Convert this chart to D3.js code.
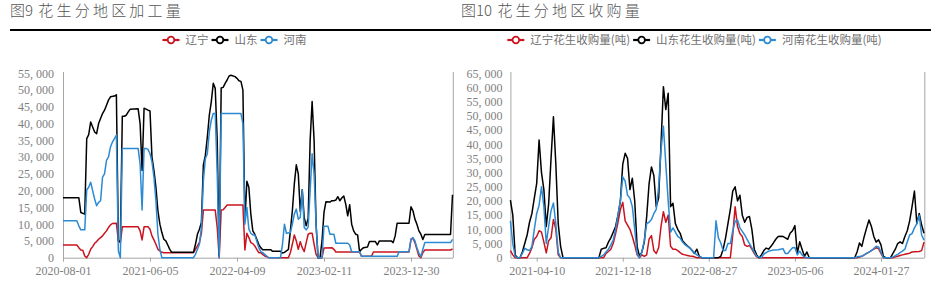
<!DOCTYPE html>
<html><head><meta charset="utf-8">
<script src="https://cdn.jsdelivr.net/npm/d3@7/dist/d3.min.js"></script>
<style>body{margin:0;background:#fff}svg{display:block}</style>
</head><body><svg id="c" width="937" height="286"></svg>
<script>
// ---------------- DATA ----------------
// Left chart: 图9 花生分地区加工量 (category axis, 198 weekly categories)
const leftTitle = ["图9", "花生分地区加工量"];
const leftCount = 198;
const leftTickLabels = ["2020-08-01", "2021-06-05", "2022-04-09", "2023-02-11", "2023-12-30"];
const leftTickIndex = [0, 44, 88, 132, 176];
const leftYTicks = [0, 5000, 10000, 15000, 20000, 25000, 30000, 35000, 40000, 45000, 50000, 55000];
const leftNames = ["辽宁", "山东", "河南"];
// [category index, value]
const leftLiaoning = [[0,3800],[7,3800],[8,3000],[9,2300],[10,2200],[11,500],[12,0],[13,1000],[14,2500],[15,3300],[16,4300],[17,4800],[18,5500],[19,6000],[20,6500],[21,7300],[22,8000],[23,9000],[24,9800],[25,10200],[27,10300],[28,5000],[29,4500],[30,9200],[38,9200],[39,8000],[40,5300],[41,9200],[43,9200],[44,8500],[45,6500],[46,5300],[47,4000],[48,2500],[49,2000],[50,1600],[51,1500],[66,1500],[67,2500],[68,3500],[69,4600],[70,7300],[71,14200],[77,14200],[78,9000],[79,0],[80,14200],[81,14300],[82,15000],[83,15700],[91,15700],[92,2300],[93,7300],[94,6000],[95,4500],[96,4200],[97,3500],[98,2500],[99,1500],[100,1500],[101,1000],[102,500],[103,300],[104,0],[114,0],[115,1500],[116,4000],[117,6800],[118,5000],[119,2500],[120,4800],[121,3000],[122,1800],[123,4500],[124,7000],[125,7300],[126,7300],[127,4000],[128,1000],[129,0],[131,0],[132,2900],[136,3000],[137,2500],[138,1700],[150,1700],[151,400],[156,400],[157,1700],[175,1700],[176,5500],[177,5800],[178,4500],[179,2500],[180,500],[181,0],[182,1500],[183,2300],[196,2300],[197,2600]];
const leftShandong = [[0,17900],[8,17900],[9,13500],[11,13000],[12,35500],[13,36700],[14,40500],[15,39000],[16,37500],[17,37000],[18,40000],[19,41500],[20,43000],[21,44000],[22,45500],[23,47000],[24,48000],[26,48200],[27,48600],[28,4900],[29,4900],[30,42200],[31,42200],[32,42500],[33,43500],[34,44300],[38,44400],[39,40000],[40,26000],[41,44600],[43,44000],[44,43800],[45,30000],[46,26000],[47,21000],[48,14000],[49,10000],[50,7500],[51,5500],[52,5000],[53,3800],[54,2500],[55,1600],[66,1600],[67,4000],[68,7000],[69,8500],[70,10500],[71,27700],[72,30500],[73,36000],[74,42500],[75,46500],[76,52000],[77,50500],[78,35000],[79,500],[80,50600],[81,50800],[82,52000],[83,53000],[84,54200],[85,54400],[87,54000],[88,53500],[89,52800],[90,52600],[91,50000],[92,11000],[93,22800],[94,21000],[95,13000],[96,8000],[97,7000],[98,5500],[99,4000],[100,3000],[101,2400],[105,2400],[106,1900],[110,1900],[111,1400],[112,1600],[113,2000],[114,2500],[115,8000],[116,14000],[117,22000],[118,27700],[119,25000],[120,13800],[121,20300],[122,12000],[123,9500],[124,11800],[125,35000],[126,46600],[127,35000],[128,10000],[129,0],[130,0],[131,5000],[132,13500],[133,16700],[135,16600],[136,17000],[137,17000],[138,17200],[139,18200],[140,17000],[141,17800],[142,18400],[143,16000],[144,12500],[145,15800],[146,10000],[147,8000],[148,7000],[149,6800],[150,1800],[151,2500],[152,3000],[154,3200],[155,4800],[158,4800],[159,3800],[160,5000],[166,5000],[167,4500],[168,6500],[169,10300],[175,10300],[176,15200],[177,14000],[178,11500],[179,10000],[180,8000],[181,7000],[182,5400],[183,6900],[196,6900],[197,18800]];
const leftHenan = [[0,11000],[7,11000],[8,9500],[9,8300],[11,8300],[12,20200],[13,21000],[14,22500],[15,20000],[16,17500],[17,15500],[18,16500],[19,17000],[20,24000],[21,25000],[22,29000],[23,30000],[24,33000],[25,34500],[26,35500],[27,36600],[28,2000],[29,0],[30,32600],[38,32600],[39,28000],[40,14200],[41,32600],[42,32600],[43,32300],[44,31000],[45,28600],[46,24000],[47,17000],[48,7000],[49,2500],[50,0],[66,0],[67,1000],[68,2500],[69,4000],[70,9000],[71,23000],[72,29500],[73,31000],[74,37500],[75,41000],[76,43000],[77,43000],[78,25000],[79,0],[80,43000],[90,43000],[91,40000],[92,10000],[93,15000],[94,8500],[95,7300],[96,6800],[97,6800],[98,5000],[99,3000],[100,1800],[101,1500],[102,1000],[103,500],[104,0],[110,0],[111,4000],[112,10000],[113,7300],[115,7500],[116,10000],[117,13000],[118,14500],[119,11500],[120,12000],[121,20200],[122,9000],[123,8300],[124,9200],[125,20000],[126,31000],[127,25000],[128,10000],[129,0],[131,0],[132,9400],[134,9400],[135,7000],[137,7000],[138,4300],[144,4300],[145,3800],[146,1800],[150,1800],[151,400],[169,400],[170,1800],[175,1800],[176,5500],[177,6000],[178,5000],[179,3000],[180,1400],[181,300],[182,2500],[183,4500],[196,4500],[197,5500]];

// Right chart: 图10 花生分地区收购量 (category axis, 174 weekly categories)
const rightTitle = ["图10", "花生分地区收购量"];
const rightCount = 174;
const rightTickLabels = ["2021-04-10", "2021-12-18", "2022-08-27", "2023-05-06", "2024-01-27"];
const rightTickIndex = [11, 47, 83, 119, 155];
const rightYTicks = [0, 5000, 10000, 15000, 20000, 25000, 30000, 35000, 40000, 45000, 50000, 55000, 60000, 65000];
const rightNames = ["辽宁花生收购量(吨)", "山东花生收购量(吨)", "河南花生收购量(吨)"];
const rightLiaoning = [[0,2500],[1,1000],[2,0],[7,0],[8,1500],[9,3500],[10,6500],[11,7500],[12,9500],[13,9000],[14,5500],[15,1700],[16,6000],[17,7000],[18,13500],[19,10000],[20,1000],[21,0],[39,0],[40,1500],[41,2200],[42,3000],[43,5000],[44,8500],[45,12500],[46,17000],[47,19500],[48,13000],[49,11500],[50,10000],[51,7500],[52,4500],[53,1000],[54,0],[55,1000],[56,500],[57,1000],[58,6500],[59,7800],[60,2500],[61,1500],[62,3500],[63,11000],[64,16200],[65,12500],[66,15000],[67,4000],[68,3000],[69,3000],[70,2500],[71,1800],[72,1200],[73,1000],[74,800],[75,600],[76,500],[77,300],[78,0],[92,0],[93,8000],[94,18000],[95,11000],[96,8500],[97,7500],[98,4500],[99,4000],[100,4300],[101,3000],[102,1500],[103,300],[104,0],[145,0],[146,200],[147,500],[148,1000],[149,1500],[150,2000],[151,2500],[152,3000],[153,3500],[154,3200],[155,1500],[156,0],[160,0],[161,300],[162,500],[163,800],[164,1000],[165,1200],[166,1400],[167,1600],[168,2000],[169,2100],[171,2200],[172,2500],[173,5500]];
const rightShandong = [[0,20300],[1,15000],[2,1000],[3,0],[4,0],[5,2000],[6,5000],[7,8000],[8,12500],[9,15600],[10,21000],[11,26200],[12,41500],[13,30000],[14,24000],[15,11000],[16,19000],[17,35000],[18,49700],[19,33000],[20,12000],[21,4000],[22,0],[37,0],[38,3000],[39,3300],[40,3500],[41,5500],[42,7000],[43,9000],[44,11000],[45,15000],[46,20000],[47,33000],[48,36800],[49,35000],[50,24000],[51,28000],[52,20000],[53,4000],[54,500],[55,2000],[56,5500],[57,14500],[58,26000],[59,32000],[60,29000],[61,18000],[62,21000],[63,40000],[64,60300],[65,52200],[66,58000],[67,18000],[68,19200],[69,12000],[70,10000],[71,8600],[72,6000],[73,5000],[74,4200],[75,3500],[76,2500],[77,1500],[78,3000],[79,500],[80,0],[87,0],[88,500],[89,3000],[90,7000],[91,12000],[92,17000],[93,23500],[94,25000],[95,20000],[96,22000],[97,15000],[98,12500],[99,14200],[100,14500],[101,10000],[102,3000],[103,1000],[104,0],[105,1000],[106,2500],[107,3400],[108,3000],[109,4000],[110,5200],[111,6500],[112,7500],[113,7600],[114,7500],[115,7000],[116,6500],[117,8600],[118,9500],[119,11300],[120,1500],[121,5600],[122,3000],[123,500],[124,2000],[125,0],[144,0],[145,2000],[146,5200],[147,4000],[148,7500],[149,10500],[150,13300],[151,11000],[152,7500],[153,5500],[154,6300],[155,4500],[156,500],[157,0],[159,0],[160,1500],[161,3000],[162,5000],[163,5600],[164,5000],[165,7500],[166,9500],[167,13000],[168,18000],[169,23500],[170,12000],[171,15600],[172,11500],[173,8600]];
const rightHenan = [[0,13000],[1,5000],[2,500],[3,0],[4,0],[5,1500],[6,3300],[7,2800],[8,2500],[9,4000],[10,10000],[11,15600],[12,18500],[13,25000],[14,18000],[15,5000],[16,11000],[17,16600],[18,19300],[19,12000],[20,2000],[21,0],[37,0],[38,500],[39,1000],[40,2000],[41,3000],[42,4500],[43,6200],[44,10000],[45,15000],[46,20000],[47,28500],[48,27000],[49,22000],[50,21000],[51,18000],[52,10000],[53,1500],[54,0],[55,2000],[56,6000],[57,12000],[58,12500],[59,13500],[60,15500],[61,17000],[62,25000],[63,38000],[64,46300],[65,33000],[66,20000],[67,9000],[68,10500],[69,9000],[70,7500],[71,6900],[72,5500],[73,4600],[74,4000],[75,3400],[76,2500],[77,1800],[78,1000],[79,500],[80,0],[85,0],[86,13000],[87,7000],[88,5200],[89,2500],[90,2500],[91,5000],[92,5000],[93,9500],[94,12800],[95,13300],[96,10500],[97,9300],[98,8000],[99,6500],[100,5000],[101,3500],[102,2000],[103,500],[105,0],[106,1300],[107,1800],[108,2300],[109,2500],[110,2700],[112,2800],[113,3000],[114,3200],[115,1500],[116,1500],[117,2500],[118,3500],[119,3600],[120,1000],[121,2300],[122,1000],[123,300],[124,0],[144,0],[145,300],[147,500],[148,1000],[149,1500],[150,2000],[151,2500],[152,3200],[153,4000],[154,3800],[155,2000],[156,0],[159,0],[160,300],[161,700],[162,1200],[163,1800],[164,2300],[165,3000],[166,5500],[167,8000],[168,8500],[169,10500],[170,12000],[171,15000],[172,8000],[173,6200]];

const seriesColors = ["#c9141f", "#000000", "#2c8ad3"];

// ---------------- DRAW ----------------
const svg = d3.select("#c");
const NUM_FONT = "'Liberation Serif','DejaVu Serif',serif";
const CJK_FONT = "'Noto Sans CJK SC','Noto Sans',sans-serif";
const AXIS_COLOR = "#a6a6a6";
const TEXT_COLOR = "#7f7f7f";

function drawChart(o) {
  const x = d3.scalePoint().domain(d3.range(o.count)).range([o.x0, o.x1]);
  const y = d3.scaleLinear().domain([0, o.yMax]).range([257.7, 73.3]);
  const g = svg.append("g");

  // title: label part tight, descriptive part spaced
  const tt = g.append("text").attr("x", o.titleX).attr("y", 15.5)
    .attr("fill", "#555").style("font", `300 15px ${CJK_FONT}`);
  tt.append("tspan").text(o.title[0] + " ");
  tt.append("tspan").attr("dx", 2).style("letter-spacing", "3.2px").text(o.title[1]);
  // rule under title
  g.append("line").attr("x1", o.ruleX0).attr("x2", o.ruleX1).attr("y1", 30).attr("y2", 30)
    .attr("stroke", "#000").attr("stroke-width", 1.8);

  // legend
  const leg = g.append("g");
  let cx = 0;
  o.names.forEach((name, i) => {
    const it = leg.append("g").attr("transform", `translate(${cx},0)`);
    it.append("line").attr("x1", 0).attr("x2", 17).attr("y1", 0).attr("y2", 0)
      .attr("stroke", seriesColors[i]).attr("stroke-width", 2.2);
    it.append("circle").attr("cx", 8.5).attr("cy", 0).attr("r", 3.3)
      .attr("fill", "#fff").attr("stroke", seriesColors[i]).attr("stroke-width", 1.8);
    const t = it.append("text").attr("x", 23).attr("y", 4)
      .attr("fill", "#707070").style("font", `11.5px ${CJK_FONT}`).text(name);
    cx += 23 + t.node().getComputedTextLength() + 3;
  });
  leg.attr("transform", `translate(${o.legendCenter - cx / 2},40)`);

  // y axis
  const ya = g.append("g").attr("transform", `translate(${o.x0},0)`)
    .call(d3.axisLeft(y).tickValues(o.yTicks).tickSize(0).tickSizeOuter(0).tickPadding(o.yPad)
      .tickFormat(d => d3.format(",")(d).replace(",", ", ")));
  ya.select(".domain").attr("stroke", AXIS_COLOR).attr("d", `M0.5,72V258`);
  ya.selectAll("text").attr("fill", TEXT_COLOR).style("font", `12px ${NUM_FONT}`);

  // x axis
  const xa = g.append("g").attr("transform", `translate(0,257.7)`)
    .call(d3.axisBottom(x).tickValues(o.tickIndex).tickSize(4).tickSizeOuter(0).tickPadding(5)
      .tickFormat(i => o.tickLabels[o.tickIndex.indexOf(i)]));
  xa.select(".domain").attr("stroke", AXIS_COLOR);
  xa.selectAll(".tick line").attr("stroke", AXIS_COLOR);
  xa.selectAll("text").attr("fill", TEXT_COLOR).style("font", `12px ${NUM_FONT}`);

  // right frame line
  g.append("line").attr("x1", o.x1 + 0.8).attr("x2", o.x1 + 0.8).attr("y1", 72).attr("y2", 258)
    .attr("stroke", AXIS_COLOR).attr("stroke-width", 1);

  // series
  const line = d3.line().x(d => x(d[0])).y(d => y(d[1]));
  o.series.forEach((s, i) => {
    g.append("path").datum(s).attr("d", line).attr("fill", "none")
      .attr("stroke", seriesColors[i]).attr("stroke-width", 1.5).attr("stroke-linejoin", "round");
  });
}

drawChart({
  title: leftTitle, titleX: 10, ruleX0: 10, ruleX1: 466,
  names: leftNames, legendCenter: 236,
  count: leftCount, x0: 63, x1: 452.5, yMax: 55000, yTicks: leftYTicks, yPad: 9,
  tickIndex: leftTickIndex, tickLabels: leftTickLabels,
  series: [leftLiaoning, leftShandong, leftHenan]
});
drawChart({
  title: rightTitle, titleX: 461, ruleX0: 466, ruleX1: 931,
  names: rightNames, legendCenter: 696,
  count: rightCount, x0: 510.4, x1: 924, yMax: 65000, yTicks: rightYTicks, yPad: 8,
  tickIndex: rightTickIndex, tickLabels: rightTickLabels,
  series: [rightLiaoning, rightShandong, rightHenan]
});
</script>
</body></html>
